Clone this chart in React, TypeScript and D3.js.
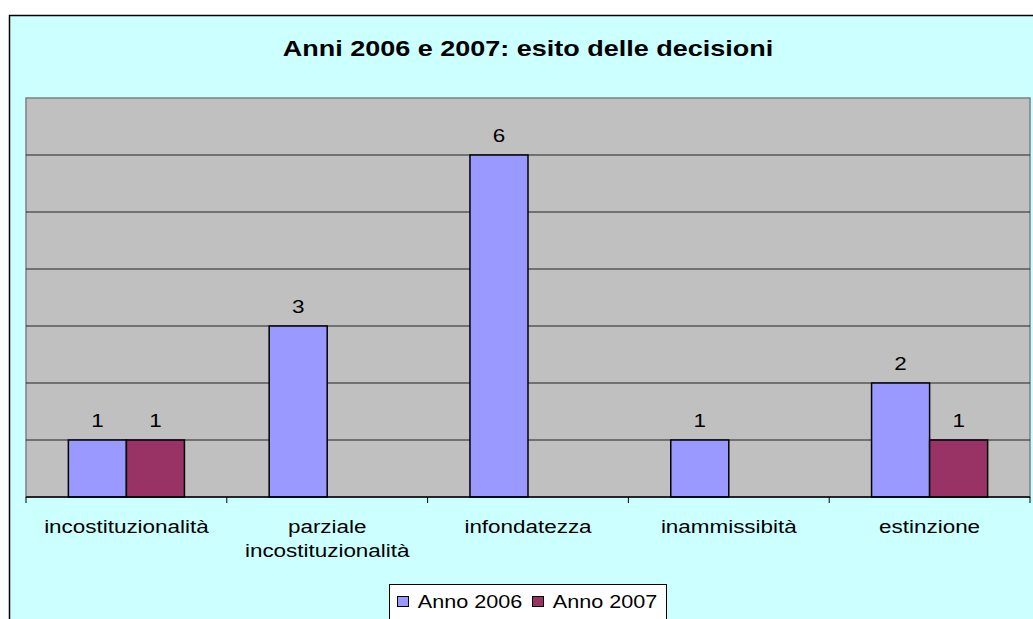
import React from "react";
import * as d3 from "d3";

const title = "Anni 2006 e 2007: esito delle decisioni";
const categories = ["incostituzionalità", "parziale incostituzionalità", "infondatezza", "inammissibità", "estinzione"];
const categoryLines = [["incostituzionalità"], ["parziale", "incostituzionalità"], ["infondatezza"], ["inammissibità"], ["estinzione"]];
const seriesNames = ["Anno 2006", "Anno 2007"];
const anno2006 = [1, 3, 6, 1, 2];
const anno2007 = [1, null, null, null, 1];
const seriesColors = ["#9999FF", "#993366"];
const yTicks = [0, 1, 2, 3, 4, 5, 6, 7];

const W = 1033;
const H = 619;
const SX = 1.2;
const FONT = "Liberation Sans, Arial, sans-serif";

function SText({ x, y, size, bold, children }: { x: number; y: number; size: number; bold?: boolean; children: React.ReactNode }) {
  return (
    <g transform={`translate(${x},${y}) scale(${SX},1)`}>
      <text textAnchor="middle" fontFamily={FONT} fontSize={size} fontWeight={bold ? "bold" : "normal"} fill="#000">
        {children}
      </text>
    </g>
  );
}

export default function App() {
  const plot = { left: 26, right: 1030, top: 98, bottom: 497 };
  const x0 = d3.scaleBand<string>().domain(categories).range([plot.left, plot.right]).paddingInner(0).paddingOuter(0);
  const x1 = d3.scaleBand<string>().domain(seriesNames).range([0, x0.bandwidth()]).paddingInner(0).paddingOuter(0.73);
  const y = d3.scaleLinear().domain([0, 7]).range([plot.bottom, plot.top]);
  const series = [anno2006, anno2007];

  const tickXs = categories.map((c) => x0(c) as number).concat([plot.right]);

  return (
    <svg width={W} height={H} style={{ position: "absolute", left: 0, top: 0, background: "#fff" }}>
      <rect x={9.5} y={15.5} width={1040} height={700} fill="#CCFFFF" stroke="#000" strokeWidth={1.5} />
      <SText x={528} y={56} size={22.5} bold>
        {title}
      </SText>
      {/* plot area */}
      <rect x={plot.left} y={plot.top} width={plot.right - plot.left} height={plot.bottom - plot.top} fill="#C0C0C0" stroke="#808080" strokeWidth={1.5} />
      {yTicks.slice(1, -1).map((t) => (
        <line key={t} x1={plot.left} x2={plot.right} y1={y(t)} y2={y(t)} stroke="#222" strokeWidth={1} />
      ))}
      {/* bars */}
      {series.map((vals, si) =>
        vals.map((v, ci) =>
          v == null ? null : (
            <rect
              key={`${si}-${ci}`}
              x={(x0(categories[ci]) as number) + (x1(seriesNames[si]) as number)}
              y={y(v)}
              width={x1.bandwidth()}
              height={y(0) - y(v)}
              fill={seriesColors[si]}
              stroke="#000"
              strokeWidth={1.5}
            />
          )
        )
      )}
      {/* value labels */}
      {series.map((vals, si) =>
        vals.map((v, ci) =>
          v == null ? null : (
            <SText key={`l${si}-${ci}`} x={(x0(categories[ci]) as number) + (x1(seriesNames[si]) as number) + x1.bandwidth() / 2} y={y(v) - 13} size={18.7}>
              {String(v)}
            </SText>
          )
        )
      )}
      {/* x axis */}
      <line x1={plot.left} x2={plot.right} y1={plot.bottom} y2={plot.bottom} stroke="#000" strokeWidth={1.5} />
      {tickXs.map((tx, i) => (
        <line key={i} x1={tx} x2={tx} y1={plot.bottom} y2={plot.bottom + 6} stroke="#000" strokeWidth={1} />
      ))}
      {categories.map((c, ci) =>
        categoryLines[ci].map((ln, li) => (
          <SText key={`${c}-${li}`} x={(x0(c) as number) + x0.bandwidth() / 2} y={533 + li * 24} size={18.7}>
            {ln}
          </SText>
        ))
      )}
      {/* legend */}
      <rect x={389.5} y={584.5} width={277} height={50} fill="#fff" stroke="#000" strokeWidth={1} />
      {seriesNames.map((s, i) => {
        const sqX = i === 0 ? 397 : 532;
        return (
          <g key={s}>
            <rect x={sqX + 0.5} y={596.5} width={11} height={10} fill={seriesColors[i]} stroke="#000" strokeWidth={1} />
            <SText x={sqX + 73} y={608} size={18}>
              {s}
            </SText>
          </g>
        );
      })}
    </svg>
  );
}
